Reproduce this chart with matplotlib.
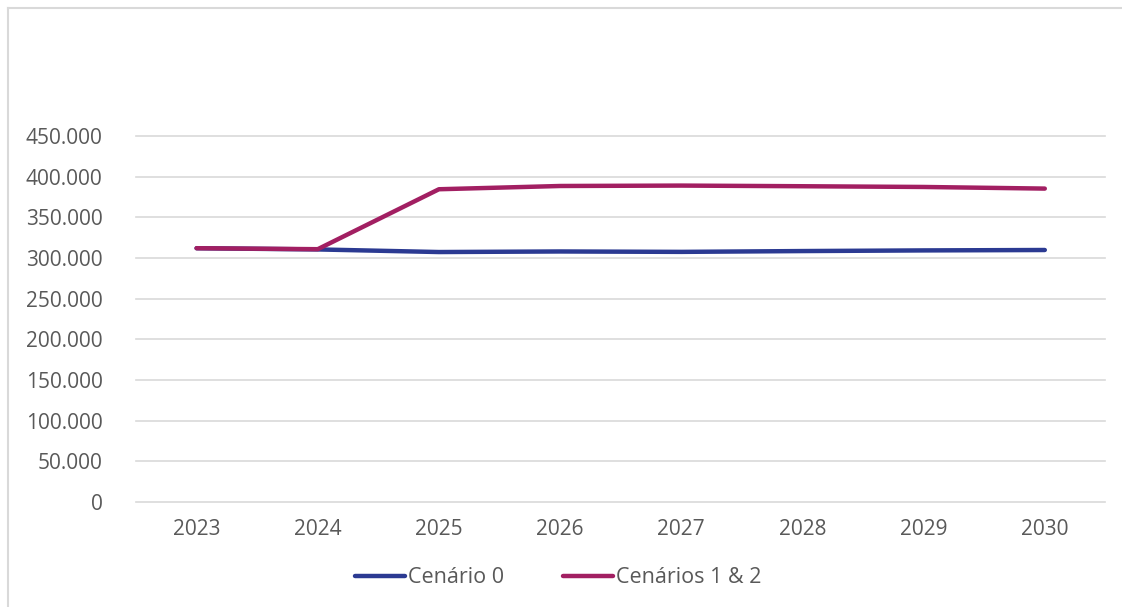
import matplotlib.pyplot as plt
from matplotlib.ticker import FuncFormatter
from matplotlib.lines import Line2D

plt.rcParams['font.family'] = ['Open Sans', 'DejaVu Sans']

# dados
anos = ['2023', '2024', '2025', '2026', '2027', '2028', '2029', '2030']
cenario_0 = [312000, 310500, 307300, 308000, 307500, 308500, 309300, 309800]
cenarios_1_2 = [312000, 310800, 384500, 388500, 389000, 388200, 387300, 385300]

azul = '#2B3A92'
magenta = '#A21F62'
cinza = '#595959'

fig = plt.figure(figsize=(11.22, 6.07), dpi=100)
ax = fig.add_axes([0.1212, 0.173, 0.864, 0.603])

x = range(len(anos))
ax.plot(x, cenario_0, color=azul, lw=3.2, solid_capstyle='round', label='Cenário 0')
ax.plot(x, cenarios_1_2, color=magenta, lw=3.2, solid_capstyle='round', label='Cenários 1 & 2')

ax.set_xlim(-0.5, len(anos) - 0.5)
ax.set_ylim(0, 450000)
ax.set_yticks(range(0, 450001, 50000))
ax.yaxis.set_major_formatter(FuncFormatter(lambda v, p: f'{int(v):,}'.replace(',', '.')))
ax.set_xticks(list(x))
ax.set_xticklabels(anos)
ax.grid(axis='y', color='#D9D9D9', lw=1.2)
for gl in ax.yaxis.get_gridlines():
    gl.set_clip_on(False)
ax.set_axisbelow(True)
for s in ax.spines.values():
    s.set_visible(False)
ax.tick_params(axis='both', length=0, labelsize=15, colors=cinza)
ax.tick_params(axis='y', pad=24)
ax.tick_params(axis='x', pad=12)

# moldura do grafico (so aparece esquerda e topo)
fig.add_artist(Line2D([0.0075, 0.0075], [0.0, 0.987], color='#D9D9D9', lw=1.5))
fig.add_artist(Line2D([0.0075, 1.0], [0.987, 0.987], color='#D9D9D9', lw=1.5))

handles = [Line2D([0], [0], color=azul, lw=3.2, solid_capstyle='round'),
           Line2D([0], [0], color=magenta, lw=3.2, solid_capstyle='round')]
leg = fig.legend(handles, ['Cenário 0', 'Cenários 1 & 2'], loc='center',
                 bbox_to_anchor=(0.4975, 0.048), ncol=2, frameon=False,
                 fontsize=15.5, handlelength=2.35, handletextpad=0.15, columnspacing=2.7)
for t in leg.get_texts():
    t.set_color(cinza)

fig.savefig('out.png', dpi=100)
